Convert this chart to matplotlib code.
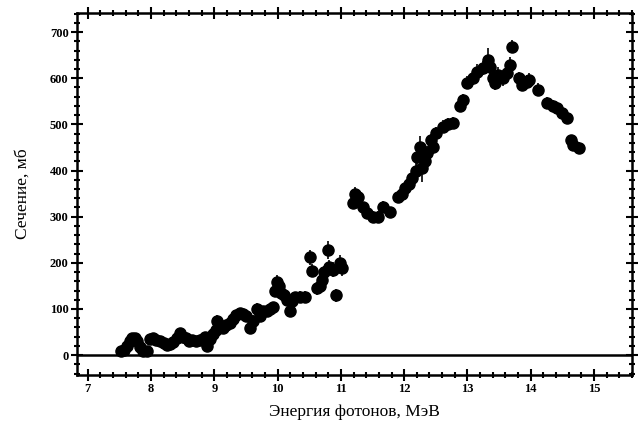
import matplotlib
matplotlib.use('Agg')
import matplotlib.pyplot as plt
from matplotlib.ticker import MultipleLocator

energy = [7.52, 7.57, 7.62, 7.66, 7.70, 7.74, 7.78, 7.83, 7.87, 7.93, 7.98, 8.03, 8.08,
          8.14, 8.20, 8.25, 8.30, 8.35, 8.41, 8.45, 8.50, 8.55, 8.60, 8.65, 8.71, 8.77,
          8.82, 8.86, 8.88, 8.93, 8.98, 9.02, 9.05, 9.09, 9.13, 9.19, 9.24, 9.30, 9.35,
          9.40, 9.45, 9.50, 9.56, 9.61, 9.67, 9.72, 9.77, 9.83, 9.88, 9.93, 9.96, 9.99,
          10.02, 10.06, 10.10, 10.15, 10.19, 10.22, 10.28, 10.35, 10.43, 10.51, 10.54,
          10.63, 10.67, 10.70, 10.74, 10.79, 10.82, 10.87, 10.93, 10.98, 11.01,
          11.19, 11.23, 11.27, 11.35, 11.42, 11.50, 11.58, 11.66, 11.77, 11.90, 11.96,
          12.01, 12.07, 12.12, 12.18, 12.20, 12.25, 12.28, 12.33, 12.36, 12.43, 12.45,
          12.51, 12.61, 12.69, 12.77, 12.88, 12.93, 13.00, 13.08, 13.15, 13.24, 13.32,
          13.36, 13.40, 13.44, 13.49, 13.56, 13.62, 13.67, 13.70, 13.82, 13.86, 13.94,
          13.98, 14.11, 14.25, 14.35, 14.41, 14.50, 14.57, 14.64, 14.67, 14.77]
sigma = [8, 12, 20, 30, 38, 37, 30, 17, 8, 10, 36, 38, 33,
         30, 26, 22, 25, 28, 38, 48, 40, 37, 30, 32, 30, 32,
         35, 40, 20, 35, 45, 55, 75, 62, 58, 66, 70, 78, 88,
         92, 90, 85, 58, 75, 100, 84, 95, 96, 100, 104, 140, 158,
         150, 135, 130, 120, 95, 118, 125, 126, 126, 212, 183,
         145, 150, 163, 180, 228, 191, 185, 130, 200, 188,
         330, 350, 343, 320, 308, 300, 300, 321, 310, 343, 350,
         362, 370, 384, 400, 430, 451, 406, 420, 438, 466, 451,
         481, 495, 500, 503, 540, 552, 590, 600, 614, 622, 640,
         625, 600, 590, 608, 600, 612, 629, 668, 600, 586, 592,
         597, 575, 547, 540, 536, 525, 514, 466, 455, 449]
sigma_err = [8, 8, 8, 8, 8, 8, 8, 8, 8, 8, 8, 8, 8,
             8, 8, 8, 8, 8, 8, 10, 8, 8, 8, 8, 8, 8,
             8, 10, 8, 10, 10, 12, 12, 10, 10, 10, 10, 10, 10,
             10, 10, 10, 12, 12, 14, 12, 10, 10, 10, 10, 14, 16,
             12, 12, 12, 12, 12, 12, 12, 12, 12, 16, 14,
             14, 14, 14, 14, 20, 16, 16, 14, 16, 16,
             12, 14, 14, 12, 12, 12, 12, 12, 12, 12, 12,
             14, 14, 16, 16, 28, 24, 30, 16, 16, 14, 16,
             14, 14, 14, 14, 14, 14, 14, 14, 16, 16, 26,
             20, 16, 16, 16, 16, 16, 16, 14, 14, 14, 14,
             14, 14, 12, 12, 12, 12, 12, 12, 12, 12]

plt.rcParams['font.family'] = ['Liberation Serif', 'DejaVu Serif']

fig = plt.figure(figsize=(6.39, 4.23), dpi=100)
ax = fig.add_axes([0.1205, 0.1135, 0.8685, 0.8555])

ax.errorbar(energy, sigma, yerr=sigma_err, fmt='o', color='black', ms=8,
            elinewidth=1.2, capsize=0, mec='black')
ax.axhline(0, color='black', lw=1.8)

ax.set_xlim(6.83, 15.6)
ax.set_ylim(-43, 741)
ax.xaxis.set_major_locator(MultipleLocator(1))
ax.xaxis.set_minor_locator(MultipleLocator(0.2))
ax.yaxis.set_major_locator(MultipleLocator(100))
ax.yaxis.set_minor_locator(MultipleLocator(20))
ax.tick_params(which='both', direction='inout', top=True, right=True, width=1.5)
ax.tick_params(which='major', length=9, labelsize=9, pad=1.5)
ax.tick_params(which='minor', length=4)
for lab in ax.get_xticklabels() + ax.get_yticklabels():
    lab.set_fontweight('bold')
for s in ax.spines.values():
    s.set_linewidth(1.8)

ax.set_xlabel('Энергия фотонов, МэВ', fontsize=12.5, labelpad=6)
ax.set_ylabel('Сечение, мб', fontsize=12.5, labelpad=14)

fig.savefig('out.png', dpi=100)
